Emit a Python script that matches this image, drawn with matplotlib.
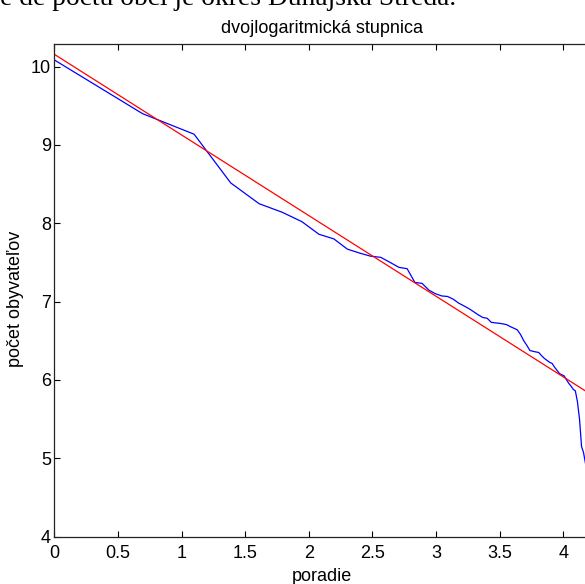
import numpy as np
import matplotlib
matplotlib.use("Agg")
import matplotlib.pyplot as plt

plt.rcParams['font.family'] = ['Liberation Sans', 'DejaVu Sans']

# Obce okresu zoradené podľa veľkosti: poradie a ln(počet obyvateľov)
rank = list(range(1, 68))
ln_pop = [
    10.086, 9.40, 9.137, 8.515, 8.25, 8.14, 8.02, 7.86, 7.80, 7.67,
    7.62, 7.58, 7.565, 7.50, 7.437, 7.42, 7.245, 7.232, 7.145, 7.10,
    7.072, 7.065, 7.03, 6.98, 6.945, 6.91, 6.87, 6.83, 6.797, 6.787,
    6.735, 6.728, 6.723, 6.715, 6.705, 6.68, 6.66, 6.64, 6.58, 6.50,
    6.44, 6.375, 6.365, 6.357, 6.35, 6.31, 6.275, 6.25, 6.225, 6.21,
    6.16, 6.12, 6.08, 6.065, 6.05, 6.00, 5.955, 5.92, 5.88, 5.86,
    5.72, 5.50, 5.15, 5.07, 4.93, 4.80, 4.70,
]

# Regresná priamka v dvojlogaritmickej stupnici
fit_intercept = 10.158
fit_slope = -1.03

x_ticks = [0, 0.5, 1, 1.5, 2, 2.5, 3, 3.5, 4]
x_ticklabels = ['0', '0.5', '1', '1.5', '2', '2.5', '3', '3.5', '4']
y_ticks = [4, 5, 6, 7, 8, 9, 10]
y_ticklabels = ['4', '5', '6', '7', '8', '9', '10']

title = 'dvojlogaritmická stupnica'
xlabel = 'poradie'
ylabel = 'počet obyvateľov'
caption = 'e de počtu obcí je okres Dunajská Streda.'

x = np.log(np.array(rank, dtype=float))
y = np.array(ln_pop)
x_fit = np.array([x[0], x[-1]])
y_fit = fit_intercept + fit_slope * x_fit

fig = plt.figure(figsize=(5.85, 5.84), dpi=100)
ax = fig.add_axes([0.0928, 0.0813, 0.9147, 0.8428])

ax.plot(x, y, color='#0000ff', lw=0.9)
ax.plot(x_fit, y_fit, color='#ff0000', lw=0.9)

ax.set_xlim(0, x[-1])
ax.set_ylim(4, 10.285)
ax.set_xticks(x_ticks)
ax.set_xticklabels(x_ticklabels)
ax.set_yticks(y_ticks)
ax.set_yticklabels(y_ticklabels)

ax.tick_params(direction='in', length=4.1, width=0.8, labelsize=13,
               top=True, right=False, colors='black')
ax.tick_params(axis='x', pad=6.2)
ax.tick_params(axis='y', pad=2.5)
for s in ax.spines.values():
    s.set_linewidth(0.9)
    s.set_color('#222222')

ax.set_title(title, fontsize=13, pad=8.3)
ax.set_xlabel(xlabel, fontsize=13, labelpad=4)
ax.set_ylabel(ylabel, fontsize=13)
ax.yaxis.set_label_coords(-0.0566, 0.4825)

fig.text(0.0, 1 - 5.0 / 584, caption, family='Liberation Serif',
         fontsize=19.8, ha='left', va='baseline')

fig.savefig('out.png', dpi=100)
